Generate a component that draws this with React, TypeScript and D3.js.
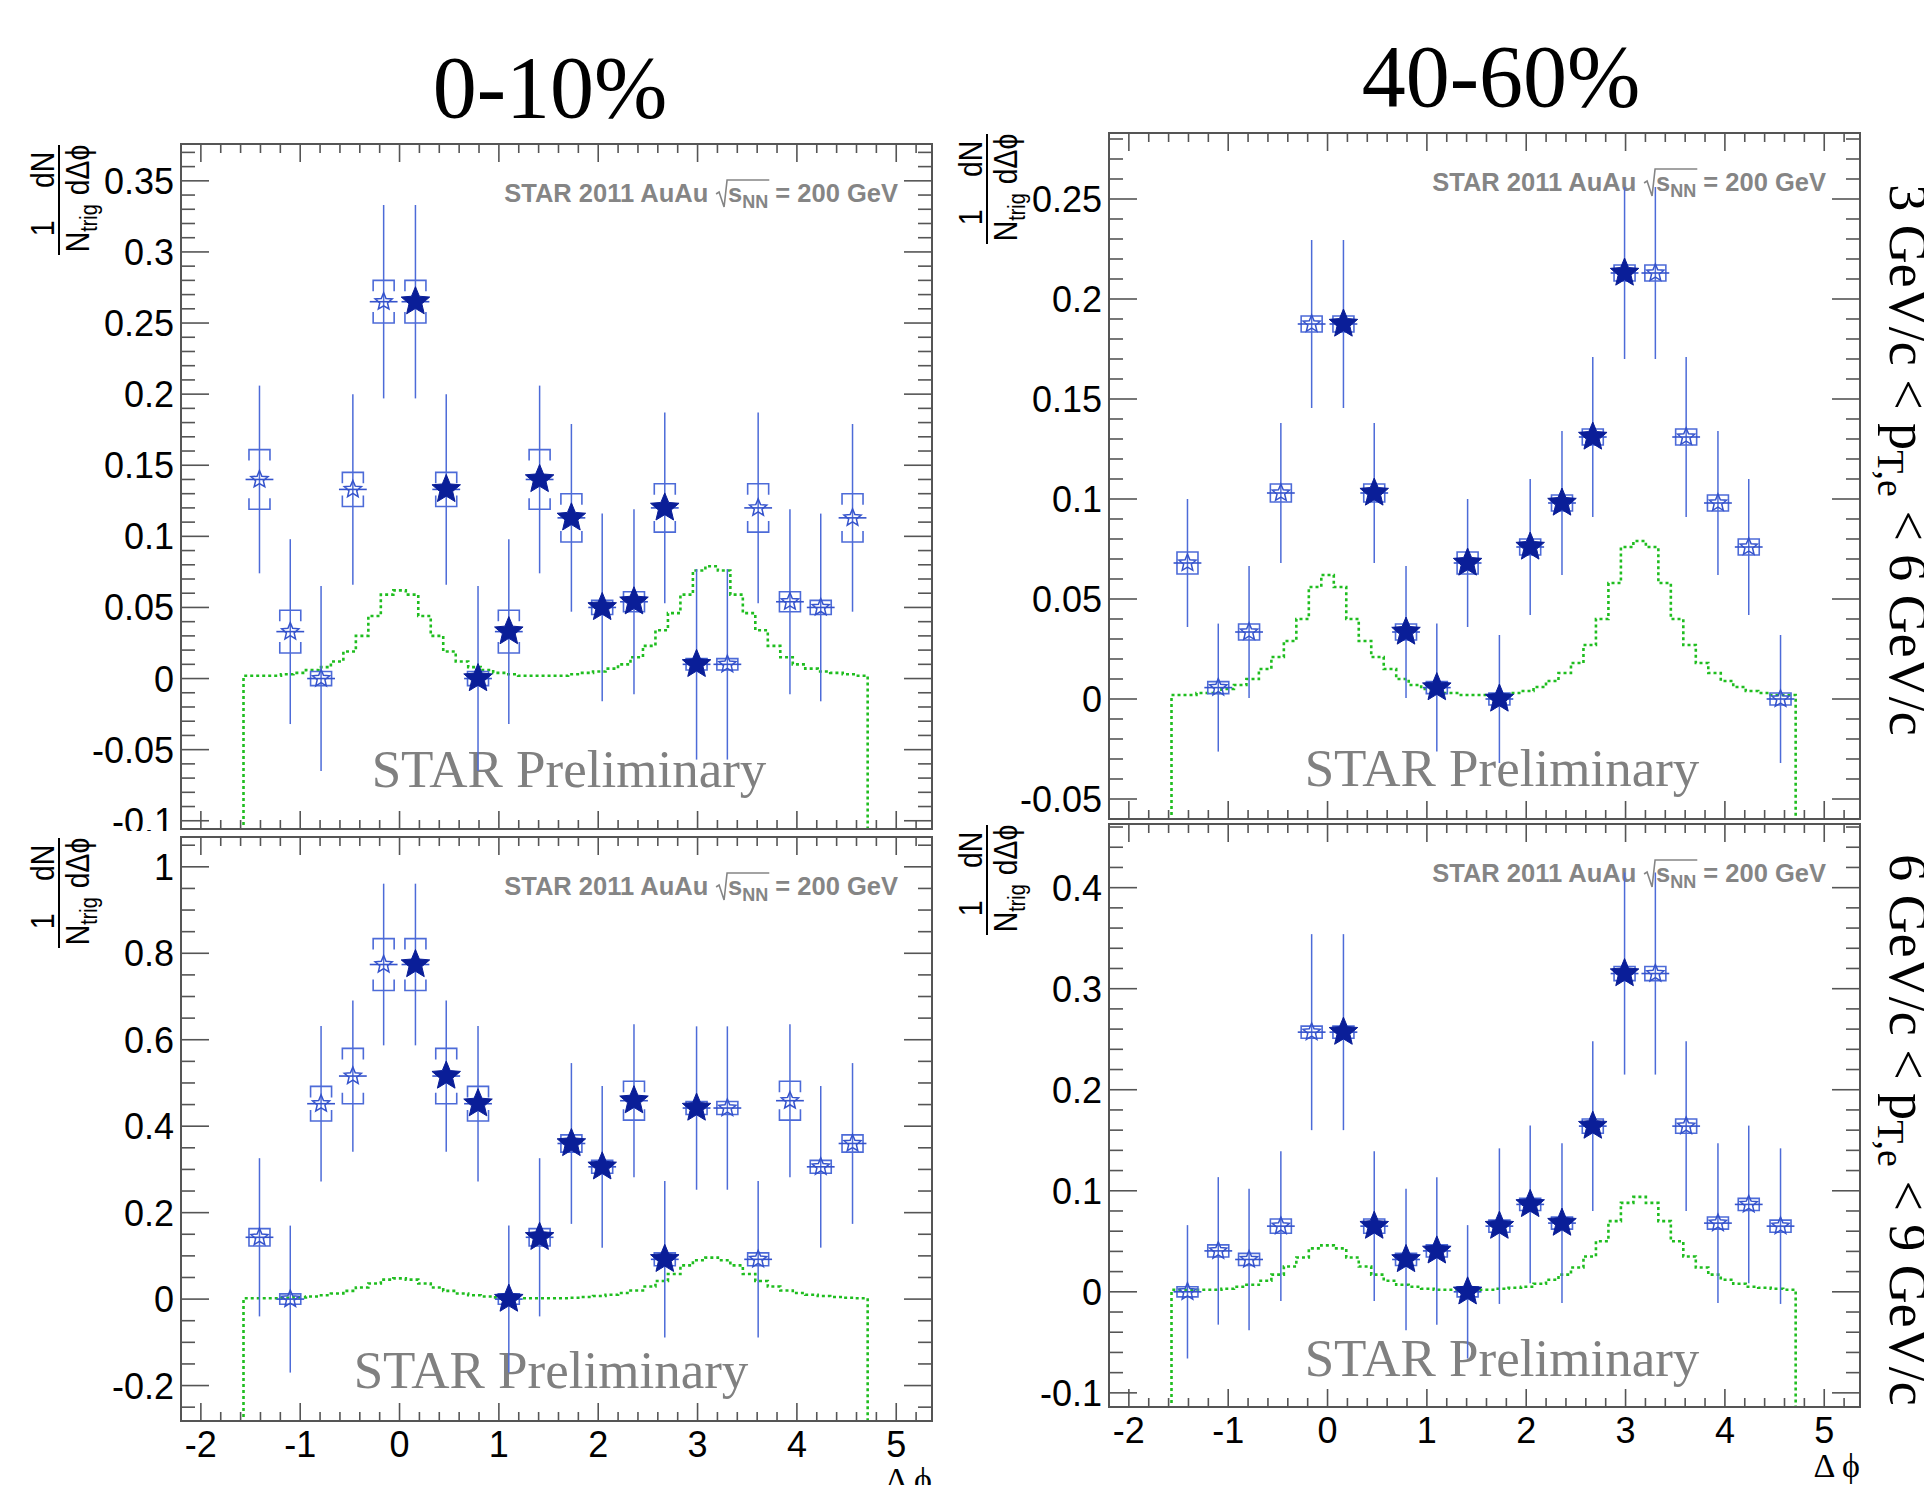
import { useEffect, useRef } from 'react'
import * as d3 from 'd3'

const W = 1924
const H = 1485

// delta-phi bin centres of the measured (filled) and reflected (open) points
const fillX = [0.16, 0.47, 0.79, 1.10, 1.41, 1.73, 2.04, 2.36, 2.67, 2.99]
const openX = [-1.41, -1.10, -0.79, -0.47, -0.16, 3.30, 3.61, 3.93, 4.24, 4.56]

// 0-10%, 3 < pT,e < 6 GeV/c
const tlFillY = [0.265, 0.133, 0.0, 0.033, 0.140, 0.113, 0.050, 0.054, 0.120, 0.010]
const tlFillStat = [0.068, 0.067, 0.065, 0.065, 0.066, 0.066, 0.066, 0.065, 0.067, 0.067]
const tlFillSys = [0.015, 0.012, 0.005, 0.015, 0.021, 0.017, 0.005, 0.007, 0.017, 0.004]
const tlOpenY = [0.140, 0.033, 0.0, 0.133, 0.265, 0.010, 0.120, 0.054, 0.050, 0.113]
const tlOpenStat = [0.066, 0.065, 0.065, 0.067, 0.068, 0.067, 0.067, 0.065, 0.066, 0.066]
const tlOpenSys = [0.021, 0.015, 0.005, 0.012, 0.015, 0.004, 0.017, 0.007, 0.005, 0.017]
const tlHist = [
  0.002, 0.002, 0.002, 0.003, 0.004, 0.006, 0.008, 0.012, 0.019, 0.030, 0.044, 0.059, 0.062,
  0.059, 0.044, 0.030, 0.019, 0.012, 0.008, 0.006, 0.004, 0.003, 0.002, 0.002, 0.002,
  0.002, 0.003, 0.004, 0.005, 0.007, 0.010, 0.015, 0.023, 0.034, 0.046, 0.059, 0.076, 0.079,
  0.076, 0.059, 0.046, 0.034, 0.023, 0.015, 0.010, 0.007, 0.005, 0.004, 0.003, 0.002,
]

// 40-60%, 3 < pT,e < 6 GeV/c
const trFillY = [0.1875, 0.103, 0.0335, 0.0057, 0.068, 0.0, 0.076, 0.098, 0.131, 0.213]
const trFillStat = [0.042, 0.035, 0.033, 0.032, 0.032, 0.032, 0.034, 0.036, 0.040, 0.043]
const trFillSys = [0.004, 0.0045, 0.004, 0.003, 0.0055, 0.003, 0.004, 0.004, 0.004, 0.004]
const trOpenY = [0.068, 0.0057, 0.0335, 0.103, 0.1875, 0.213, 0.131, 0.098, 0.076, 0.0]
const trOpenStat = [0.032, 0.032, 0.033, 0.035, 0.042, 0.043, 0.040, 0.036, 0.034, 0.032]
const trOpenSys = [0.0055, 0.003, 0.004, 0.0045, 0.004, 0.004, 0.004, 0.004, 0.004, 0.003]
const trHist = [
  0.002, 0.002, 0.003, 0.003, 0.005, 0.007, 0.010, 0.015, 0.021, 0.029, 0.040, 0.056, 0.062,
  0.056, 0.040, 0.029, 0.021, 0.015, 0.010, 0.007, 0.005, 0.003, 0.003, 0.002, 0.002,
  0.002, 0.002, 0.003, 0.004, 0.006, 0.009, 0.013, 0.018, 0.027, 0.040, 0.058, 0.076, 0.079,
  0.076, 0.058, 0.040, 0.027, 0.018, 0.013, 0.009, 0.006, 0.004, 0.003, 0.002, 0.002,
]

// 0-10%, 6 < pT,e < 9 GeV/c
const blFillY = [0.774, 0.516, 0.452, 0.0, 0.143, 0.360, 0.306, 0.459, 0.092, 0.442]
const blFillStat = [0.187, 0.175, 0.180, 0.170, 0.183, 0.186, 0.187, 0.177, 0.181, 0.189]
const blFillSys = [0.060, 0.064, 0.040, 0.012, 0.020, 0.020, 0.015, 0.045, 0.015, 0.015]
const blOpenY = [0.143, 0.0, 0.452, 0.516, 0.774, 0.442, 0.092, 0.459, 0.306, 0.360]
const blOpenStat = [0.183, 0.170, 0.180, 0.175, 0.187, 0.189, 0.181, 0.177, 0.187, 0.186]
const blOpenSys = [0.020, 0.012, 0.040, 0.064, 0.060, 0.015, 0.015, 0.045, 0.015, 0.020]
const blHist = [
  0.002, 0.002, 0.002, 0.003, 0.004, 0.006, 0.009, 0.013, 0.019, 0.027, 0.036, 0.045, 0.048,
  0.045, 0.036, 0.027, 0.019, 0.013, 0.009, 0.006, 0.004, 0.003, 0.002, 0.002, 0.002,
  0.002, 0.003, 0.005, 0.007, 0.010, 0.014, 0.020, 0.029, 0.042, 0.058, 0.078, 0.090, 0.096,
  0.090, 0.078, 0.058, 0.042, 0.029, 0.020, 0.014, 0.010, 0.007, 0.005, 0.003, 0.002,
]

// 40-60%, 6 < pT,e < 9 GeV/c
const brFillY = [0.257, 0.065, 0.032, 0.0405, 0.0, 0.065, 0.0865, 0.068, 0.164, 0.315]
const brFillStat = [0.097, 0.074, 0.070, 0.073, 0.066, 0.077, 0.078, 0.079, 0.084, 0.100]
const brFillSys = [0.006, 0.007, 0.006, 0.006, 0.005, 0.006, 0.006, 0.006, 0.007, 0.007]
const brOpenY = [0.0, 0.0405, 0.032, 0.065, 0.257, 0.315, 0.164, 0.068, 0.0865, 0.065]
const brOpenStat = [0.066, 0.073, 0.070, 0.074, 0.097, 0.100, 0.084, 0.079, 0.078, 0.077]
const brOpenSys = [0.005, 0.006, 0.006, 0.007, 0.006, 0.007, 0.007, 0.006, 0.006, 0.006]
const brHist = [
  0.002, 0.002, 0.002, 0.002, 0.003, 0.005, 0.007, 0.011, 0.017, 0.025, 0.034, 0.043, 0.046,
  0.043, 0.034, 0.025, 0.017, 0.011, 0.007, 0.005, 0.003, 0.002, 0.002, 0.002, 0.002,
  0.002, 0.003, 0.004, 0.005, 0.008, 0.012, 0.017, 0.024, 0.035, 0.050, 0.070, 0.088, 0.094,
  0.088, 0.070, 0.050, 0.035, 0.024, 0.017, 0.012, 0.008, 0.005, 0.004, 0.003, 0.002,
]

const xTicks = [-2, -1, 0, 1, 2, 3, 4, 5]
const yTicksTL = [-0.1, -0.05, 0, 0.05, 0.1, 0.15, 0.2, 0.25, 0.3, 0.35]
const yTicksTR = [-0.05, 0, 0.05, 0.1, 0.15, 0.2, 0.25]
const yTicksBL = [-0.2, 0, 0.2, 0.4, 0.6, 0.8, 1]
const yTicksBR = [-0.1, 0, 0.1, 0.2, 0.3, 0.4]

const centralityTitles = ['0-10%', '40-60%']
const ptLabels = [
  ['3 GeV/c < p', 'T,e', ' < 6 GeV/c'],
  ['6 GeV/c < p', 'T,e', ' < 9 GeV/c'],
]

const xDomain = [-2.2, 5.36]
const histLo = -Math.PI / 2
const histHi = (3 * Math.PI) / 2
const xErr = 0.14

const SANS = '"Liberation Sans", Arial, Helvetica, sans-serif'
const SERIF = '"Liberation Serif", "Times New Roman", serif'
const blueDark = '#0a1e98'
const blueLine = '#4d6bd8'
const blueOpen = '#3553cc'
const green = '#1fbd1f'
const frameCol = '#555'
const greyText = '#858585'

const panels = [
  {
    x0: 181, x1: 932, y0: 144, y1: 829, yDom: [-0.1058, 0.3759], yTicks: yTicksTL, yMinor: 0.01,
    fillY: tlFillY, fillStat: tlFillStat, fillSys: tlFillSys,
    openY: tlOpenY, openStat: tlOpenStat, openSys: tlOpenSys, hist: tlHist,
    bottom: false, prelim: [569, 787], cover: null,
  },
  {
    x0: 1109, x1: 1860, y0: 133, y1: 819, yDom: [-0.06, 0.283], yTicks: yTicksTR, yMinor: 0.01,
    fillY: trFillY, fillStat: trFillStat, fillSys: trFillSys,
    openY: trOpenY, openStat: trOpenStat, openSys: trOpenSys, hist: trHist,
    bottom: false, prelim: [1502, 786], cover: null,
  },
  {
    x0: 181, x1: 932, y0: 837, y1: 1421, yDom: [-0.282, 1.069], yTicks: yTicksBL, yMinor: 0.05,
    fillY: blFillY, fillStat: blFillStat, fillSys: blFillSys,
    openY: blOpenY, openStat: blOpenStat, openSys: blOpenSys, hist: blHist,
    bottom: true, prelim: [551, 1388], cover: [0, 831, 955, 654],
  },
  {
    x0: 1109, x1: 1860, y0: 824, y1: 1407, yDom: [-0.114, 0.463], yTicks: yTicksBR, yMinor: 0.02,
    fillY: brFillY, fillStat: brFillStat, fillSys: brFillSys,
    openY: brOpenY, openStat: brOpenStat, openSys: brOpenSys, hist: brHist,
    bottom: true, prelim: [1502, 1376], cover: [955, 821, 905, 664],
  },
]

function starPath(cx: number, cy: number, R: number, ratio: number) {
  const pts = d3.range(10).map(i => {
    const a = -Math.PI / 2 + (i * Math.PI) / 5
    const r = i % 2 === 0 ? R : R * ratio
    return [cx + r * Math.cos(a), cy + r * Math.sin(a)]
  })
  return 'M' + pts.map(p => p.join(',')).join('L') + 'Z'
}

function drawPanel(svg: any, p: any, id: number) {
  const g = svg.append('g')
  if (p.cover) {
    g.append('rect')
      .attr('x', p.cover[0]).attr('y', p.cover[1])
      .attr('width', p.cover[2]).attr('height', p.cover[3])
      .attr('fill', '#fff')
  }

  const x = d3.scaleLinear().domain(xDomain).range([p.x0, p.x1])
  const y = d3.scaleLinear().domain(p.yDom).range([p.y1, p.y0])

  const clipId = 'clip' + id
  g.append('clipPath').attr('id', clipId)
    .append('rect')
    .attr('x', p.x0).attr('y', p.y0)
    .attr('width', p.x1 - p.x0).attr('height', p.y1 - p.y0)

  // watermark + header text under the data
  g.append('text')
    .attr('x', p.prelim[0]).attr('y', p.prelim[1])
    .attr('text-anchor', 'middle')
    .style('font-family', SERIF).style('font-size', '53px')
    .attr('fill', '#808080')
    .text('STAR Preliminary')

  const by = p.y0 + 58
  const head = g.append('text')
    .attr('x', p.x1 - 34).attr('y', by)
    .attr('text-anchor', 'end')
    .style('font-family', SANS).style('font-size', '25.5px').style('font-weight', 'bold')
    .attr('fill', greyText)
  head.append('tspan').text('STAR 2011 AuAu \u2002s')
  head.append('tspan').attr('dy', 6).style('font-size', '18px').text('NN')
  head.append('tspan').attr('dy', -6).text(' = 200 GeV')
  try {
    const node = head.node() as SVGTextElement
    const s = node.getExtentOfChar(16)
    const n2 = node.getExtentOfChar(18)
    const xs = s.x
    const xe = n2.x + n2.width
    const top = by - 22
    g.append('path')
      .attr('d', `M${xs - 12},${by - 8}L${xs - 9},${by - 10}L${xs - 4},${by + 5}L${xs - 1},${top}L${xe + 1},${top}`)
      .attr('fill', 'none').attr('stroke', greyText).attr('stroke-width', 1.6)
  } catch (e) {
    // no measurement available
  }

  const plot = g.append('g').attr('clip-path', `url(#${clipId})`)

  // step histogram
  const nb = p.hist.length
  const bw = (histHi - histLo) / nb
  const hp: [number, number][] = [[x(histLo), p.y1 + 2]]
  p.hist.forEach((v: number, i: number) => {
    hp.push([x(histLo + i * bw), y(v)])
    hp.push([x(histLo + (i + 1) * bw), y(v)])
  })
  hp.push([x(histHi), p.y1 + 2])
  plot.append('path')
    .attr('d', d3.line()(hp))
    .attr('fill', 'none')
    .attr('stroke', green)
    .attr('stroke-width', 2.6)
    .attr('stroke-dasharray', '3 3')

  const pts = [
    ...fillX.map((xv, i) => ({ x: xv, v: p.fillY[i], s: p.fillStat[i], sy: p.fillSys[i], open: false })),
    ...openX.map((xv, i) => ({ x: xv, v: p.openY[i], s: p.openStat[i], sy: p.openSys[i], open: true })),
  ]

  // systematic brackets
  const hw = 10.5
  plot.selectAll('path.sys').data(pts).enter().append('path')
    .attr('class', 'sys')
    .attr('d', (d: any) => {
      const cx = x(d.x)
      const yt = y(d.v + d.sy)
      const yb = y(d.v - d.sy)
      const arm = Math.min(11, (yb - yt) / 2)
      return `M${cx - hw},${yt + arm}V${yt}H${cx + hw}V${yt + arm}M${cx - hw},${yb - arm}V${yb}H${cx + hw}V${yb - arm}`
    })
    .attr('fill', 'none').attr('stroke', blueLine).attr('stroke-width', 1.6)

  // statistical bars
  plot.selectAll('line.stat').data(pts).enter().append('line')
    .attr('x1', (d: any) => x(d.x)).attr('x2', (d: any) => x(d.x))
    .attr('y1', (d: any) => y(d.v + d.s)).attr('y2', (d: any) => y(d.v - d.s))
    .attr('stroke', blueLine).attr('stroke-width', 1.5)
  plot.selectAll('line.xerr').data(pts).enter().append('line')
    .attr('x1', (d: any) => x(d.x - xErr)).attr('x2', (d: any) => x(d.x + xErr))
    .attr('y1', (d: any) => y(d.v)).attr('y2', (d: any) => y(d.v))
    .attr('stroke', blueOpen).attr('stroke-width', 1.6)

  // markers
  plot.selectAll('path.mk').data(pts).enter().append('path')
    .attr('d', (d: any) => d.open ? starPath(x(d.x), y(d.v), 9, 0.45) : starPath(x(d.x), y(d.v), 15, 0.45))
    .attr('fill', (d: any) => d.open ? 'none' : blueDark)
    .attr('stroke', (d: any) => d.open ? blueOpen : blueDark)
    .attr('stroke-width', (d: any) => d.open ? 1.5 : 1)

  // frame and ticks
  g.append('rect')
    .attr('x', p.x0).attr('y', p.y0)
    .attr('width', p.x1 - p.x0).attr('height', p.y1 - p.y0)
    .attr('fill', 'none').attr('stroke', frameCol).attr('stroke-width', 2)

  const ticks = g.append('g').attr('stroke', frameCol).attr('stroke-width', 1.6)
  const yMin = Math.ceil(p.yDom[0] / p.yMinor - 1e-6)
  const yMax = Math.floor(p.yDom[1] / p.yMinor + 1e-6)
  d3.range(yMin, yMax + 1).forEach(k => {
    const v = k * p.yMinor
    const major = p.yTicks.some((t: number) => Math.abs(t - v) < 1e-6)
    const len = major ? 28 : 14
    const yy = y(v)
    ticks.append('line').attr('x1', p.x0).attr('x2', p.x0 + len).attr('y1', yy).attr('y2', yy)
    ticks.append('line').attr('x1', p.x1).attr('x2', p.x1 - len).attr('y1', yy).attr('y2', yy)
  })
  const xMin = Math.ceil(xDomain[0] / 0.2 - 1e-6)
  const xMax = Math.floor(xDomain[1] / 0.2 + 1e-6)
  d3.range(xMin, xMax + 1).forEach(k => {
    const v = k * 0.2
    const major = xTicks.some(t => Math.abs(t - v) < 1e-6)
    const len = major ? 18 : 9
    const xx = x(v)
    ticks.append('line').attr('x1', xx).attr('x2', xx).attr('y1', p.y1).attr('y2', p.y1 - len)
    ticks.append('line').attr('x1', xx).attr('x2', xx).attr('y1', p.y0).attr('y2', p.y0 + len)
  })

  g.selectAll('text.ylab').data(p.yTicks).enter().append('text')
    .attr('x', p.x0 - 7).attr('y', (d: number) => y(d)).attr('dy', '0.36em')
    .attr('text-anchor', 'end')
    .style('font-family', SANS).style('font-size', '36px')
    .attr('fill', '#000')
    .text((d: number) => String(d))

  if (p.bottom) {
    g.selectAll('text.xlab').data(xTicks).enter().append('text')
      .attr('x', (d: number) => x(d)).attr('y', p.y1 + 36)
      .attr('text-anchor', 'middle')
      .style('font-family', SANS).style('font-size', '36px')
      .attr('fill', '#000')
      .text((d: number) => String(d))
    g.append('text')
      .attr('x', p.x1).attr('y', p.y1 + 70)
      .attr('text-anchor', 'end')
      .style('font-family', SERIF).style('font-size', '34px')
      .text('\u0394 \u03d5')
  }

  // y title: 1/N_trig dN/dDeltaPhi, rotated and slightly condensed
  const lt = g.append('g')
    .attr('transform', `translate(${p.x0 - 122},${p.y0 + 111}) rotate(-90) scale(0.86,1)`)
    .style('font-family', SANS)
  lt.append('line').attr('x1', 0).attr('x2', 128).attr('y1', 0).attr('y2', 0)
    .attr('stroke', '#000').attr('stroke-width', 2)
  lt.append('text').attr('x', 31).attr('y', -5).attr('text-anchor', 'middle')
    .style('font-size', '33px').text('1')
  const nt = lt.append('text').attr('x', 31).attr('y', 30).attr('text-anchor', 'middle').style('font-size', '33px')
  nt.append('tspan').text('N')
  nt.append('tspan').attr('dy', 8).style('font-size', '23px').text('trig')
  lt.append('text').attr('x', 99).attr('y', -5).attr('text-anchor', 'middle')
    .style('font-size', '33px').text('dN')
  lt.append('text').attr('x', 99).attr('y', 30).attr('text-anchor', 'middle')
    .style('font-size', '33px').text('d\u0394\u03d5')
}

export default function App() {
  const ref = useRef<SVGSVGElement>(null)

  useEffect(() => {
    const svg = d3.select(ref.current)
    svg.selectAll('*').remove()
    svg.append('rect').attr('width', W).attr('height', H).attr('fill', '#fff')

    panels.forEach((p, i) => drawPanel(svg, p, i))

    // centrality titles
    const titlePos = [[550, 117], [1501, 106]]
    centralityTitles.forEach((t, i) => {
      svg.append('text')
        .attr('x', titlePos[i][0]).attr('y', titlePos[i][1])
        .attr('text-anchor', 'middle')
        .style('font-family', SERIF).style('font-size', '88px')
        .text(t)
    })

    // pT ranges on the right edge
    const ptPos = [[1890, 460], [1890, 1130]]
    ptLabels.forEach((parts, i) => {
      const t = svg.append('text')
        .attr('transform', `translate(${ptPos[i][0]},${ptPos[i][1]}) rotate(90)`)
        .attr('text-anchor', 'middle')
        .style('font-family', SERIF).style('font-size', '54px')
      t.append('tspan').text(parts[0])
      t.append('tspan').attr('dy', 12).style('font-size', '38px').text(parts[1])
      t.append('tspan').attr('dy', -12).text(parts[2])
    })
  }, [])

  return (
    <div style={{ position: 'absolute', left: 0, top: 0 }}>
      <svg ref={ref} width={W} height={H} style={{ display: 'block' }} />
    </div>
  )
}
